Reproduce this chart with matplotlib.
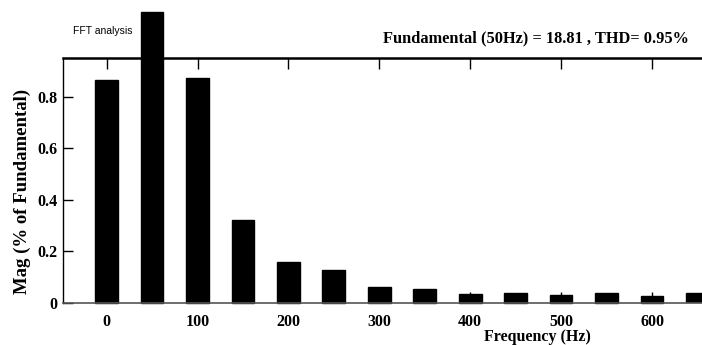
import numpy as np
import matplotlib
matplotlib.use('Agg')
import matplotlib.pyplot as plt

# harmonic order frequencies (Hz) and magnitudes (% of fundamental)
freqs = [0, 50, 100, 150, 200, 250, 300, 350, 400, 450, 500, 550, 600, 650]
mags = [0.865, 1.13, 0.871, 0.321, 0.157, 0.126, 0.062, 0.053,
        0.034, 0.036, 0.030, 0.036, 0.025, 0.036]
xticks = [0, 100, 200, 300, 400, 500, 600]
yticks = [0, 0.2, 0.4, 0.6, 0.8]
ytick_labels = ['0', '0.2', '0.4', '0.6', '0.8']

serif = ['Liberation Serif', 'DejaVu Serif']

fig = plt.figure(figsize=(7.02, 3.45), dpi=100)
ax = fig.add_axes([0.0897, 0.1226, 0.9103, 0.7094])

bars = ax.bar(freqs, mags, width=25, color='black', edgecolor='black')
for b in bars:
    b.set_clip_on(False)
bars[-1].set_clip_on(True)

ax.set_xlim(-48, 655)
ax.set_ylim(0, 0.95)
ax.set_xticks(xticks)
ax.set_yticks(yticks)
ax.set_yticklabels(ytick_labels)
ax.tick_params(axis='x', direction='in', top=True, length=8, width=1, pad=8)
ax.tick_params(axis='y', direction='in', length=7, width=1, pad=4)
for lab in ax.get_xticklabels() + ax.get_yticklabels():
    lab.set_family(serif)
    lab.set_fontweight('bold')
    lab.set_fontsize(11.5)

ax.spines['right'].set_visible(False)
ax.spines['top'].set_linewidth(1.8)
ax.spines['bottom'].set_color('#555555')
ax.spines['bottom'].set_linewidth(1.2)
ax.spines['left'].set_linewidth(1.0)

fig.text(537 / 702, 1 - 337 / 345, 'Frequency (Hz)', ha='center', va='center',
         family=serif, fontweight='bold', fontsize=11.5)
fig.text(22 / 702, 1 - 191 / 345, 'Mag (% of Fundamental)', ha='center', va='center',
         rotation=90, family=serif, fontweight='bold', fontsize=13.5)
fig.text(73 / 702, 1 - 31 / 345, 'FFT analysis', ha='left', va='center',
         family=['Liberation Sans', 'DejaVu Sans'], fontsize=7.5)
fig.text(689 / 702, 1 - 38 / 345, 'Fundamental (50Hz) = 18.81 , THD= 0.95%',
         ha='right', va='center', family=serif, fontweight='bold', fontsize=11.8)

fig.savefig('out.png', dpi=100)
